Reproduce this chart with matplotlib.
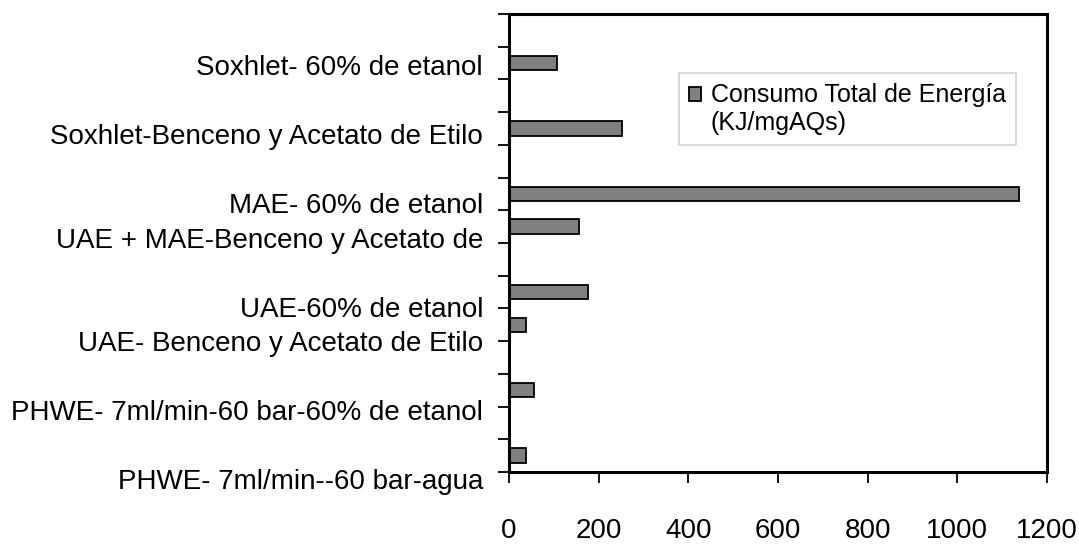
import matplotlib
matplotlib.use("Agg")
import matplotlib.pyplot as plt
from matplotlib.container import BarContainer
from matplotlib.legend_handler import HandlerPatch
from matplotlib.patches import Rectangle
import numpy as np

plt.rcParams['font.family'] = ['Liberation Sans', 'DejaVu Sans']

# 14 category slots from bottom to top; empty names are blank slots
categories = [
    "PHWE- 7ml/min--60 bar-agua", "",
    "PHWE- 7ml/min-60 bar-60% de etanol", "",
    "UAE- Benceno y Acetato de Etilo", "UAE-60% de etanol", "",
    "UAE + MAE-Benceno y Acetato de", "MAE- 60% de etanol", "",
    "Soxhlet-Benceno y Acetato de Etilo", "",
    "Soxhlet- 60% de etanol", "",
]
energy = [37, None, 56, None, 37, 176, None, 156, 1137, None, 251, None, 108, None]
series_name = "Consumo Total de Energía\n(KJ/mgAQs)"
x_ticks = [0, 200, 400, 600, 800, 1000, 1200]

W, H = 1079, 545
fig = plt.figure(figsize=(W / 100, H / 100), dpi=100)
ax_left, ax_right, ax_top, ax_bottom = 509, 1047, 14, 472
ax = fig.add_axes([ax_left / W, 1 - ax_bottom / H, (ax_right - ax_left) / W,
                   (ax_bottom - ax_top) / H])

n = len(categories)
pos = np.arange(n)
mask = np.array([v is not None for v in energy])
vals = np.array([v if v is not None else 0 for v in energy], dtype=float)
bars = ax.barh(pos[mask], vals[mask], height=0.44, color="#808080",
               edgecolor="black", linewidth=1.3, label=series_name)

ax.set_ylim(-0.5, n - 0.5)
ax.set_xlim(0, 1200)
ax.set_xticks(x_ticks)
ax.set_xticklabels([str(t) for t in x_ticks], fontsize=20)

# tick marks on slot boundaries
ax.set_yticks(np.arange(-0.5, n, 1.0))
ax.set_yticklabels([])
ax.tick_params(axis='y', which='major', length=8, width=1.3, direction='out')
ax.tick_params(axis='x', length=8, width=1.3, direction='out', pad=25)

# category labels, spread slightly wider than the slots
label_x = -26 / (ax_right - ax_left)
trans = ax.get_yaxis_transform()
for p, name in zip(pos, categories):
    if not name:
        continue
    y = p - 0.095 - 0.055 * (n - 1 - p)
    ax.text(label_x, y, name, transform=trans, ha="right", va="center",
            fontsize=20, clip_on=False)

for s in ax.spines.values():
    s.set_linewidth(2.2)
    s.set_color("black")


def square_on_first_line(legend, orig_handle, xdescent, ydescent, width, height, fontsize):
    # lift the swatch so it sits beside the first line of the label
    return Rectangle((-xdescent, -ydescent + 0.62 * fontsize), width, height)


def copy_bar_style(legend_patch, orig_handle):
    legend_patch.update_from(orig_handle.patches[0])


leg = ax.legend(loc="upper left",
                bbox_to_anchor=((679 - ax_left) / (ax_right - ax_left),
                                1 - (73 - ax_top) / (ax_bottom - ax_top)),
                borderaxespad=0, fontsize=18, frameon=True, fancybox=False,
                handlelength=0.48, handleheight=0.48, borderpad=0.4,
                handletextpad=0.4,
                handler_map={BarContainer: HandlerPatch(patch_func=square_on_first_line,
                                                        update_func=copy_bar_style)})
leg.get_frame().set_edgecolor("#c8c8c8")
leg.get_frame().set_linewidth(1.2)

fig.savefig("out.png", dpi=100)
